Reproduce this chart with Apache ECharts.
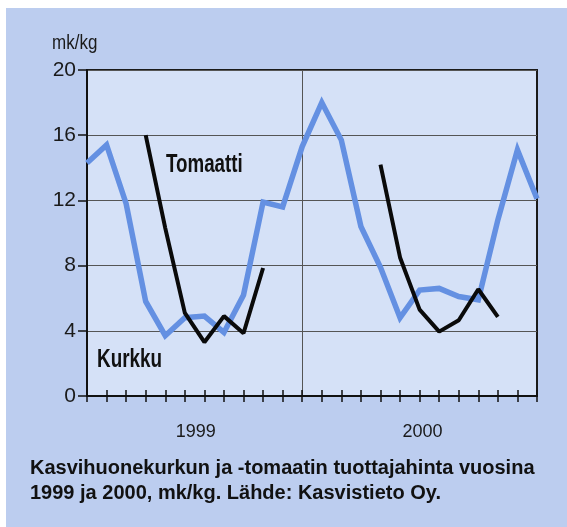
<!DOCTYPE html>
<html>
<head>
<meta charset="utf-8">
<script src="https://cdn.jsdelivr.net/npm/echarts@6/dist/echarts.min.js"></script>
<style>
  html, body { margin: 0; padding: 0; background: #ffffff; }
  #chart { width: 567px; height: 527px; }
</style>
</head>
<body>
<div id="chart"></div>
<script>
// Months Jan 1999 .. Dec 2000 (24 points)
const months = [
  '1/1999','2/1999','3/1999','4/1999','5/1999','6/1999','7/1999','8/1999','9/1999','10/1999','11/1999','12/1999',
  '1/2000','2/2000','3/2000','4/2000','5/2000','6/2000','7/2000','8/2000','9/2000','10/2000','11/2000','12/2000'
];
const yearLabels = ['1999', '2000'];
const yTicks = [0, 4, 8, 12, 16, 20];

// Kurkku (cucumber), mk/kg
const kurkku = [14.3, 15.4, 11.8, 5.8, 3.7, 4.8, 4.9, 3.9, 6.2, 11.9, 11.6, 15.3,
                18.0, 15.7, 10.4, 7.9, 4.8, 6.5, 6.6, 6.1, 5.9, 10.8, 15.1, 12.1];
// Tomaatti (tomato), mk/kg
const tomaatti = [null, null, null, 16.0, 10.3, 5.1, 3.3, 4.9, 3.85, 7.85, null, null,
                  null, null, null, 14.2, 8.5, 5.3, 3.95, 4.65, 6.55, 4.85, null, null];

const regular = "'Liberation Sans', Arial, sans-serif";

const chart = echarts.init(document.getElementById('chart'), null, { renderer: 'canvas' });

chart.setOption({
  backgroundColor: '#bccdef',
  animation: false,
  grid: {
    left: 87, top: 70, width: 450, height: 326,
    show: true, backgroundColor: '#d5e1f7', borderColor: '#1a1a1a', borderWidth: 2,
    containLabel: false
  },
  xAxis: [
    {
      type: 'category', data: months, boundaryGap: false, position: 'bottom',
      axisLine: { show: true, lineStyle: { color: '#111', width: 2 } },
      axisTick: { show: true, interval: 0, length: 6, inside: false, lineStyle: { color: '#111', width: 1.5 } },
      axisLabel: {
        show: true, interval: 0, margin: 27,
        formatter: function (v, i) {
          if (i === 5) return '{a|' + yearLabels[0] + '}';
          if (i === 17) return '{b|' + yearLabels[1] + '}';
          return '';
        },
        rich: {
          a: { fontFamily: regular, fontSize: 18, color: '#1a1a1a', padding: [0, 0, 0, 22] },
          b: { fontFamily: regular, fontSize: 18, color: '#1a1a1a', padding: [0, 0, 0, 6] }
        }
      },
      splitLine: { show: true, interval: function (i) { return i === 11; }, lineStyle: { color: '#555', width: 1 } }
    },
    {
      type: 'category', data: months, boundaryGap: false, position: 'bottom',
      axisLine: { show: false },
      axisTick: { show: true, interval: 0, length: 6, inside: true, lineStyle: { color: '#111', width: 1.5 } },
      axisLabel: { show: false },
      splitLine: { show: false }
    }
  ],
  yAxis: {
    type: 'value', min: yTicks[0], max: yTicks[yTicks.length - 1], interval: 4,
    axisLine: { show: true, lineStyle: { color: '#111', width: 2 } },
    axisTick: { show: true, length: 9, lineStyle: { color: '#111', width: 1.5 } },
    axisLabel: { fontFamily: regular, fontSize: 21, color: '#1a1a1a', margin: 11 },
    splitLine: { show: true, lineStyle: { color: '#555', width: 1 } }
  },
  series: [
    {
      name: 'Kurkku', type: 'line', data: kurkku, xAxisIndex: 0,
      symbol: 'none', connectNulls: false,
      lineStyle: { color: '#6490e2', width: 5.5, join: 'miter' }, z: 2
    },
    {
      name: 'Tomaatti', type: 'line', data: tomaatti, xAxisIndex: 0,
      symbol: 'none', connectNulls: false,
      lineStyle: { color: '#0a0a0a', width: 4 }, z: 3
    }
  ],
  graphic: [
    { type: 'rect', shape: { x: 0, y: 0, width: 567, height: 8 }, style: { fill: '#ffffff' }, silent: true },
    { type: 'rect', shape: { x: 0, y: 0, width: 6, height: 527 }, style: { fill: '#ffffff' }, silent: true },
    { type: 'text', x: 52, y: 43, scaleX: 0.85, style: { text: 'mk/kg', font: '20px ' + regular, fill: '#1a1a1a', textVerticalAlign: 'middle' } },
    { type: 'text', x: 166, y: 165, z: 10, scaleX: 0.75, style: { text: 'Tomaatti', font: 'bold 25px ' + regular, fill: '#111', textVerticalAlign: 'middle' } },
    { type: 'text', x: 97, y: 360, z: 10, scaleX: 0.755, style: { text: 'Kurkku', font: 'bold 25px ' + regular, fill: '#111', textVerticalAlign: 'middle' } },
    { type: 'text', x: 30, y: 468, style: { text: 'Kasvihuonekurkun ja -tomaatin tuottajahinta vuosina', font: 'bold 20px ' + regular, fill: '#111', textVerticalAlign: 'middle' } },
    { type: 'text', x: 30, y: 493, style: { text: '1999 ja 2000, mk/kg. Lähde: Kasvistieto Oy.', font: 'bold 20px ' + regular, fill: '#111', textVerticalAlign: 'middle' } }
  ]
});
</script>
</body>
</html>
